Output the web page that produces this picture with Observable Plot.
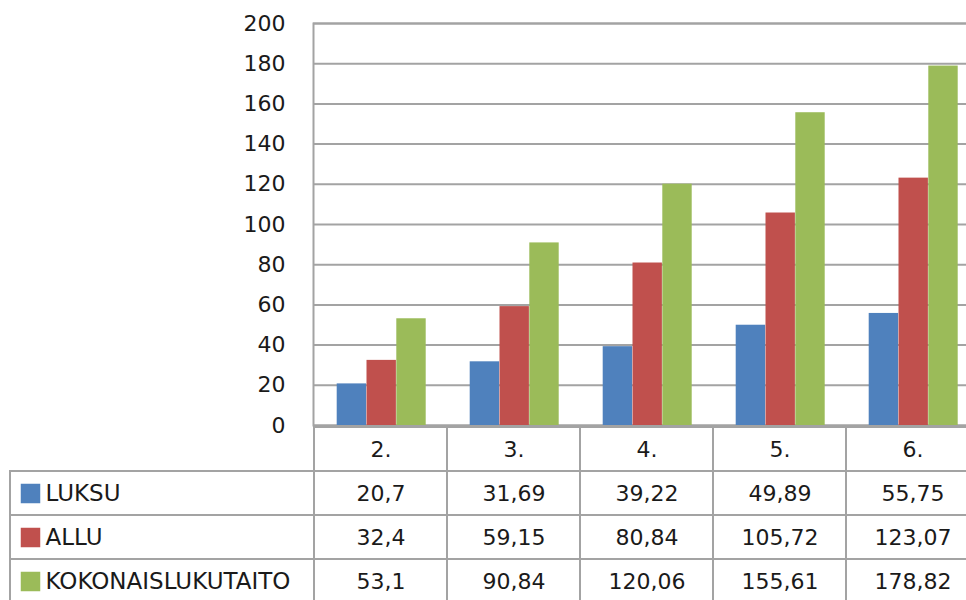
<!DOCTYPE html>
<html>
<head>
<meta charset="utf-8">
<script src="https://cdn.jsdelivr.net/npm/d3@7"></script>
<script src="https://cdn.jsdelivr.net/npm/@observablehq/plot@0.6"></script>
<style>
  html, body { margin: 0; padding: 0; background: #fff; }
  svg { display: block; }
  #table { margin-top: -14px; }
</style>
</head>
<body>
<script>
// ---- data ----
const categories = ["2.", "3.", "4.", "5.", "6."];
const seriesNames = ["LUKSU", "ALLU", "KOKONAISLUKUTAITO"];
const luksu = [20.7, 31.69, 39.22, 49.89, 55.75];
const allu = [32.4, 59.15, 80.84, 105.72, 123.07];
const kokonais = [53.1, 90.84, 120.06, 155.61, 178.82];
const seriesColors = ["#4F81BD", "#C0504D", "#9BBB59"];
const yTicks = [0, 20, 40, 60, 80, 100, 120, 140, 160, 180, 200];
const headerKey = "header";

// ---- layout / style ----
const W = 966;
const xRange = [313, 980];
const bw = (xRange[1] - xRange[0]) / categories.length;
const barW = 29.8;
const groupPad = 22.7;
const gridColor = "#a3a3a3";
const textColor = "#1a1a1a";
const font = "'DejaVu Sans', Verdana, sans-serif";
const fontSize = "22px";

const values = [luksu, allu, kokonais];
const rows = categories.flatMap((c, i) => seriesNames.map((s, j) => ({cat: c, series: s, value: values[j][i], j})));
const fmt = v => String(v).replace(".", ",");

// ---- chart ----
const chart = Plot.plot({
  width: W,
  height: 440,
  marginLeft: 313,
  marginRight: -20,
  marginTop: 23,
  marginBottom: 15,
  style: {fontFamily: font, fontSize, color: textColor, background: "white"},
  x: {type: "band", domain: categories, range: xRange, padding: 0, axis: null},
  y: {domain: [0, 200], ticks: yTicks, tickSize: 0, tickPadding: 28, label: null},
  marks: [
    Plot.ruleY(yTicks, {stroke: gridColor, strokeWidth: 2}),
    Plot.frame({stroke: gridColor, strokeWidth: 2}),
    ...seriesNames.map((s, j) => Plot.barY(rows.filter(d => d.series === s), {
      x: "cat",
      y: "value",
      fill: seriesColors[j],
      insetLeft: groupPad + j * barW,
      insetRight: bw - groupPad - (j + 1) * barW
    }))
  ]
});

// ---- data table ----
const tableCells = [
  ...categories.map(c => ({cat: c, row: headerKey})),
  ...rows.map(d => ({cat: d.cat, row: d.series}))
];

const table = Plot.plot({
  width: W,
  height: 174,
  marginLeft: 10,
  marginRight: -20,
  marginTop: 0,
  marginBottom: 0,
  style: {fontFamily: font, fontSize, color: textColor, background: "transparent"},
  x: {type: "band", domain: categories, range: xRange, padding: 0, axis: null},
  y: {type: "band", domain: [headerKey, ...seriesNames], range: [-1, 178], padding: 0, axis: null},
  color: {domain: seriesNames, range: seriesColors},
  marks: [
    Plot.cell(seriesNames, {y: d => d, fill: "white", stroke: gridColor, strokeWidth: 2}),
    Plot.cell(tableCells, {x: "cat", y: "row", fill: "white", stroke: gridColor, strokeWidth: 2}),
    Plot.text(categories, {x: d => d, y: () => headerKey, text: d => d, fill: textColor}),
    Plot.text(rows, {x: "cat", y: "series", text: d => fmt(d.value), fill: textColor}),
    Plot.dot(seriesNames, {y: d => d, frameAnchor: "left", dx: 20, symbol: "square", r: 11, fill: d => d, stroke: null}),
    Plot.text(seriesNames, {y: d => d, frameAnchor: "left", dx: 35, textAnchor: "start", text: d => d, fill: textColor, fontSize: 23})
  ]
});
table.id = "table";

document.body.appendChild(chart);
document.body.appendChild(table);
</script>
</body>
</html>
